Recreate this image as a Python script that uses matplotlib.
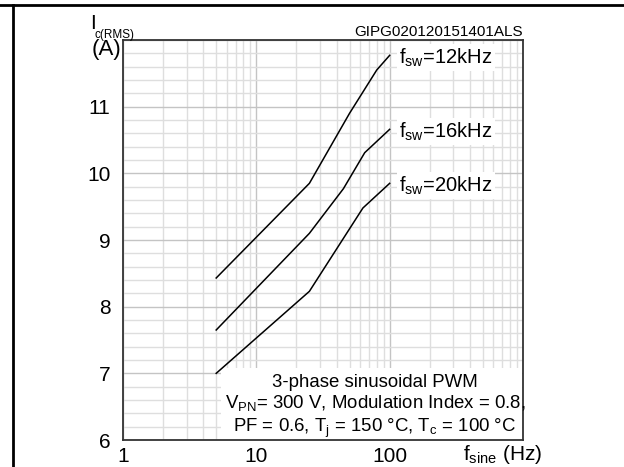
import matplotlib
matplotlib.use("Agg")
import matplotlib.pyplot as plt
from matplotlib.lines import Line2D
from matplotlib.patches import Rectangle
from matplotlib.ticker import FixedLocator, LogLocator, NullFormatter

plt.rcParams["font.family"] = ["Liberation Sans", "DejaVu Sans"]
plt.rcParams["mathtext.fontset"] = "custom"
plt.rcParams["mathtext.rm"] = "Liberation Sans"
plt.rcParams["mathtext.it"] = "Liberation Sans"
plt.rcParams["mathtext.default"] = "regular"

# curves: Ic(RMS) vs f_sine
f_12k = [5, 25, 50, 80, 100]
i_12k = [8.43, 9.85, 10.90, 11.55, 11.77]
f_16k = [5, 25, 45, 65, 100]
i_16k = [7.65, 9.10, 9.77, 10.31, 10.66]
f_20k = [5, 25, 63, 100]
i_20k = [7.00, 8.23, 9.48, 9.85]
labels = ["$f_{sw}$=12kHz", "$f_{sw}$=16kHz", "$f_{sw}$=20kHz"]

x_ticks = [1, 10, 100]
x_ticklabels = ["1", "10", "100"]
y_ticks = [6, 7, 8, 9, 10, 11]

cond_lines = ["3-phase sinusoidal PWM",
              "V$_{PN}$= 300 V, Modulation Index = 0.8,",
              "PF = 0.6, T$_{j}$ = 150 \u00b0C, T$_{c}$ = 100 \u00b0C"]

fig = plt.figure(figsize=(6.24, 4.67), dpi=100)
ax = fig.add_axes([123 / 624, 1 - 440 / 467, 400 / 624, 400 / 467])

ax.set_xscale("log")
ax.set_xlim(1, 1000)
ax.set_ylim(6, 12)
ax.xaxis.set_major_locator(FixedLocator(x_ticks))
ax.set_xticklabels(x_ticklabels)
ax.xaxis.set_minor_locator(LogLocator(base=10, subs=range(2, 10)))
ax.xaxis.set_minor_formatter(NullFormatter())
ax.yaxis.set_major_locator(FixedLocator(y_ticks + [12]))
ax.set_yticklabels([str(v) for v in y_ticks] + [""])
ax.yaxis.set_minor_locator(FixedLocator([6 + 0.2 * k for k in range(31)]))

ax.grid(which="major", color="#c4c4c4", lw=1.0)
ax.grid(which="minor", color="#dedede", lw=1.0)
ax.set_axisbelow(True)
ax.tick_params(which="both", length=0, labelsize=15)
ax.tick_params(axis="y", pad=9)
ax.tick_params(axis="x", pad=5)
for s in ax.spines.values():
    s.set_color("#333333")
    s.set_linewidth(1.3)

# white area behind the conditions text
ax.add_patch(Rectangle((0.245, 0.0), 0.752, 0.18, transform=ax.transAxes,
                       facecolor="white", edgecolor="none", zorder=1.5))

for f, i, lab in zip([f_12k, f_16k, f_20k], [i_12k, i_16k, i_20k], labels):
    ax.plot(f, i, color="black", lw=1.1, zorder=3)
    ax.text(f[-1] * 1.18, i[-1] - 0.12, lab, fontsize=14.5, va="baseline",
            ha="left", zorder=4,
            bbox=dict(facecolor="white", edgecolor="none", pad=1.5))

for line, yb in zip(cond_lines, [0.1325, 0.08, 0.02]):
    ax.text(0.63, yb, line, transform=ax.transAxes, ha="center",
            va="baseline", fontsize=13.4, zorder=4)

# axis captions in datasheet style
fig.text(90 / 624, 1 - 29 / 467, "I", fontsize=15, va="baseline")
fig.text(95 / 624, 1 - 38 / 467, "c(RMS)", fontsize=8.5, va="baseline")
fig.text(121 / 624, 1 - 50 / 467, "(A)", fontsize=16, va="center", ha="right")
fig.text(523 / 624, 1 - 36 / 467, "GIPG020120151401ALS", fontsize=11,
         ha="right", va="baseline")
fig.text(463 / 624, 1 - 460 / 467, "f$_{sine}$ (Hz)", fontsize=15,
         ha="left", va="baseline")

# page frame lines
fig.add_artist(Line2D([0, 1], [1 - 5 / 467, 1 - 5 / 467], color="black",
                      lw=2, transform=fig.transFigure))
fig.add_artist(Line2D([12.5 / 624, 12.5 / 624], [0, 1 - 5 / 467],
                      color="black", lw=2, transform=fig.transFigure))

fig.savefig("out.png", dpi=100)
